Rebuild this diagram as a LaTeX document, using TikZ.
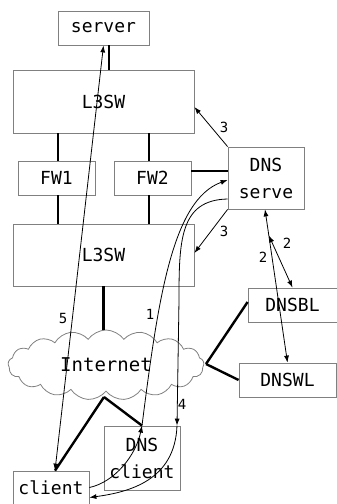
\documentclass[tikz,border=0pt]{standalone}
\usepackage{fontspec}
\setmainfont{DejaVu Sans Mono}
\usetikzlibrary{shapes.symbols, arrows.meta}

\begin{document}
\begin{tikzpicture}[x=1pt, y=-1pt,
  box/.style={draw=gray, line width=0.8pt, inner sep=0pt, align=center, font=\fontsize{18}{27}\selectfont},
  link/.style={line width=2.4pt},
  flow/.style={line width=0.8pt},
  num/.style={inner sep=0pt, font=\fontsize{14}{14}\selectfont},
  >={Latex[length=7pt, width=5pt]}]
\useasboundingbox (0, 0) rectangle (337, 504);

\node[box, minimum width=91pt, minimum height=34pt] (server) at (103.5, 28) {server};
\node[box, minimum width=181pt, minimum height=63pt] (sw1) at (103.5, 101.5) {L3SW};
\node[box, minimum width=77pt, minimum height=34pt] (fw1) at (56.5, 178) {FW1};
\node[box, minimum width=77pt, minimum height=34pt] (fw2) at (152.5, 178) {FW2};
\node[box, minimum width=76pt, minimum height=62pt] (dns) at (266, 178) {DNS\\serve};
\node[box, minimum width=181pt, minimum height=62pt] (sw2) at (103.5, 255) {L3SW};
\node[box, minimum width=89pt, minimum height=34pt] (dnsbl) at (292.5, 305) {DNSBL};
\node[box, minimum width=97pt, minimum height=34pt] (dnswl) at (287.5, 380) {DNSWL};
\node[box, minimum width=76pt, minimum height=64pt] (dnsc) at (142, 458) {DNS\\client};
\node[box, minimum width=76pt, minimum height=33pt] (client) at (51, 487.5) {client};
\node[cloud, draw=gray, fill=white, line width=0.8pt, cloud puffs=17, cloud puff arc=110, aspect=2.9,
  minimum width=196pt, minimum height=70pt, inner sep=0pt, font=\fontsize{19}{19}\selectfont] (inet) at (106, 365) {Internet};

\coordinate (ib) at (104, 397);
\coordinate (ir) at (206, 364);

% wiring
\draw[link] ([xshift=5.5pt]server.south) -- ([xshift=5.5pt]sw1.north);
\draw[link] ([xshift=1.5pt]fw1.north) -- ([xshift=1.5pt]fw1.north |- sw1.south);
\draw[link] ([xshift=-3.5pt]fw2.north) -- ([xshift=-3.5pt]fw2.north |- sw1.south);
\draw[link] ([xshift=1.5pt]fw1.south) -- ([xshift=1.5pt]fw1.south |- sw2.north);
\draw[link] ([xshift=-3.5pt]fw2.south) -- ([xshift=-3.5pt]fw2.south |- sw2.north);
\draw[link] ([yshift=7pt]fw2.east) -- ([yshift=7pt]fw2.east -| dns.west);
\draw[link] (sw2.south) -- (sw2.south |- inet.north);
\draw[link] (ib) -- ([xshift=4pt]client.north);
\draw[link] (ib) -- (dnsc.north);
\draw[link] (ir) -- ([yshift=3pt]dnsbl.west);
\draw[link] (ir) -- (dnswl.west);

% message flow
\draw[flow, <->] ([xshift=4pt]client.north) -- (server.south);
\draw[flow, ->] (dns.north west) -- ([yshift=-5.5pt]sw1.east);
\draw[flow, ->] (dns.south west) -- ([yshift=2pt]sw2.east);
\draw[flow, <->] ([xshift=-1pt]dns.south) -- coordinate[pos=0.17] (mid2) (dnswl.north);
\draw[flow, <->] (mid2) -- (dnsbl.north);
\draw[flow, ->] (client.east) .. controls (115, 482) and (136, 455) .. (dnsc.north);
\draw[flow, ->] (dnsc.north) .. controls (158, 300) and (172, 200) .. ([yshift=-2pt]dns.west);
\draw[flow, ->] ([yshift=-21pt]dns.west) .. controls (180, 200) and (179, 240) .. (179, 300) -- ([xshift=35pt]dnsc.north);
\draw[flow, ->] ([xshift=35pt]dnsc.north) .. controls (175, 480) and (130, 492) .. ([yshift=-10pt]client.east);

\node[num] (n5) at (63, 318) {5};
\node[num] (n3a) at (224, 127) {3};
\node[num] (n3b) at (224, 231) {3};
\node[num] (n2a) at (287, 243) {2};
\node[num] (n2b) at (263, 257) {2};
\node[num] (n1) at (150, 314) {1};
\node[num] (n4) at (182, 404) {4};
\end{tikzpicture}
\end{document}
